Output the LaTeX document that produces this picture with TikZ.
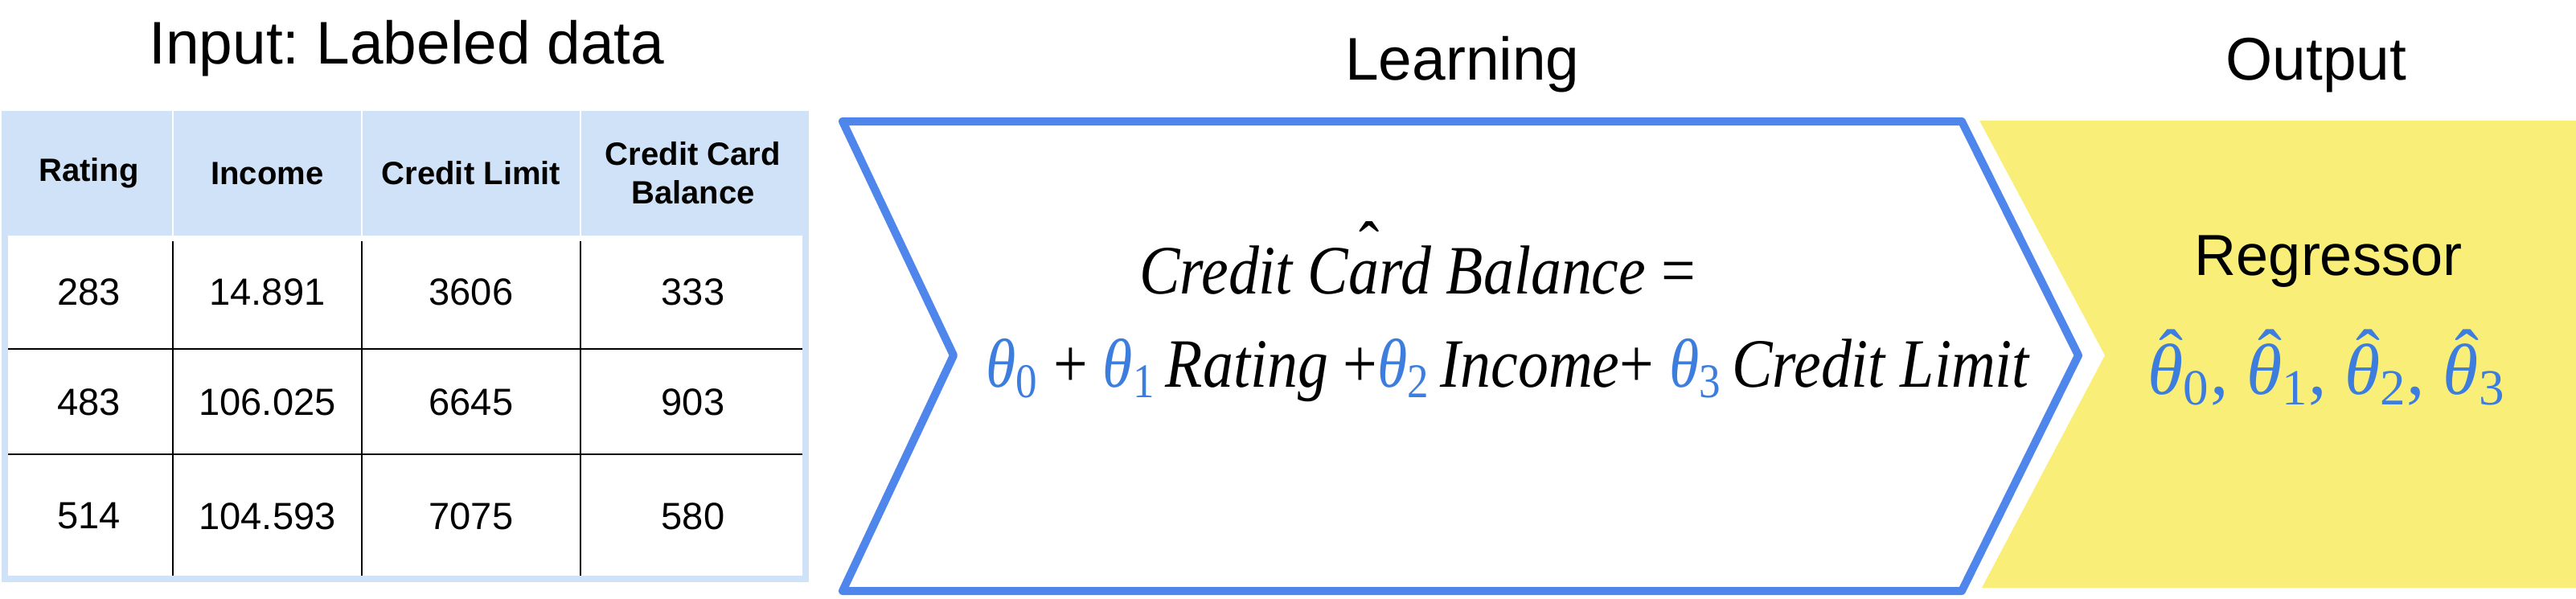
\documentclass[tikz,border=0pt]{standalone}
\usepackage{fontspec}
\setmainfont{Liberation Sans}
\newfontfamily\eqfont{Liberation Serif}
\usepackage{graphicx}
\frenchspacing
\definecolor{hdblue}{HTML}{CFE2F8}
\definecolor{chevblue}{HTML}{4F86EC}
\definecolor{thblue}{HTML}{3C7DDD}
\definecolor{outyellow}{HTML}{F9EE78}
\newcommand{\tht}[1]{\textcolor{thblue}{θ\textsubscript{\upshape#1}}}
\newcommand{\hatover}[3]{\ooalign{#3\cr\hidewidth\kern#1\raisebox{#2}{\upshape ˆ}\hidewidth\cr}}
\newcommand{\thhat}[1]{\hatover{0.16em}{0.2em}{\itshape θ}\textsubscript{\upshape#1}}
\begin{document}
\begin{tikzpicture}[
  ttl/.style={font=\fontsize{21.3}{25}\selectfont,anchor=base,inner sep=0pt},
  hd/.style={font=\bfseries\fontsize{11.4}{13.6}\selectfont,align=center,inner sep=0pt},
  cell/.style={font=\fontsize{13.4}{15}\selectfont,inner sep=0pt},
  grid/.style={line width=0.6pt},
  frame/.style={draw=hdblue,line width=0.08cm},
  eq/.style={font=\eqfont\itshape\fontsize{24.5}{28}\selectfont,anchor=base,inner sep=0pt}]
  \useasboundingbox (0,0) rectangle (32.04,7.44);
  % output area and learning chevron
  \fill[outyellow] (24.62,5.94) -- (32.04,5.94) -- (32.04,0.13) -- (24.65,0.13) -- (26.18,3.02) -- cycle;
  \draw[draw=chevblue,fill=white,line width=0.1cm,line join=round]
    (10.48,5.93) -- (24.40,5.93) -- (25.85,3.02) -- (24.40,0.09) -- (10.48,0.09) -- (11.86,3.02) -- cycle;
  % table
  \fill[hdblue] (0.02,4.51) rectangle (10.06,6.06);
  \draw[white,line width=0.6pt] (2.15,4.51) -- (2.15,6.06) (4.50,4.51) -- (4.50,6.06) (7.22,4.51) -- (7.22,6.06);
  \draw[frame] (0.06,4.51) -- (0.06,0.245) -- (10.02,0.245) -- (10.02,4.51);
  \draw[grid] (2.15,4.44) -- (2.15,0.285) (4.50,4.44) -- (4.50,0.285) (7.22,4.44) -- (7.22,0.285);
  \draw[grid] (0.10,3.10) -- (9.98,3.10) (0.10,1.79) -- (9.98,1.79);
  \node[hd] (hrat) at (1.105,5.285){Rating};
  \node[hd] (hinc) at (3.325,5.285){Income};
  \node[hd] (hlim) at (5.86,5.285){Credit Limit};
  \node[hd] (hbal) at (8.62,5.285){Credit Card\\Balance};
  \node[cell] (r1rat) at (1.105,3.81){283};
  \node[cell] (r1inc) at (3.325,3.81){14.891};
  \node[cell] (r1lim) at (5.86,3.81){3606};
  \node[cell] (r1bal) at (8.62,3.81){333};
  \node[cell] (r2rat) at (1.105,2.44){483};
  \node[cell] (r2inc) at (3.325,2.44){106.025};
  \node[cell] (r2lim) at (5.86,2.44){6645};
  \node[cell] (r2bal) at (8.62,2.44){903};
  \node[cell] (r3rat) at (1.105,1.02){514};
  \node[cell] (r3inc) at (3.325,1.02){104.593};
  \node[cell] (r3lim) at (5.86,1.02){7075};
  \node[cell] (r3bal) at (8.62,1.02){580};
  % titles
  \node[ttl] (input) at (5.06,6.64){Input: Labeled data};
  \node[ttl] (learn) at (18.19,6.44){Learning};
  \node[ttl] (output) at (28.81,6.44){Output};
  % formula
  \node[eq] (eqtop) at (17.63,3.79){\scalebox{0.88}[1]{Credit \hatover{0pt}{0.34em}{Card} Balance {\upshape=}}};
  \node[eq] (eqbot) at (18.75,2.63){\scalebox{0.88}[1]{\tht{0} {\upshape+} \tht{1}\,Rating {\upshape+}\tht{2}\,Income{\upshape+} \tht{3}\,Credit Limit}};
  % result
  \node[ttl,font=\fontsize{20.5}{24}\selectfont] (regr) at (28.96,4.02){Regressor};
  \node[anchor=base,inner sep=0pt,text=thblue,font=\eqfont\fontsize{25.6}{30}\selectfont] (est) at (28.94,2.54){\thhat{0}, \thhat{1}, \thhat{2}, \thhat{3}};
\end{tikzpicture}
\end{document}
